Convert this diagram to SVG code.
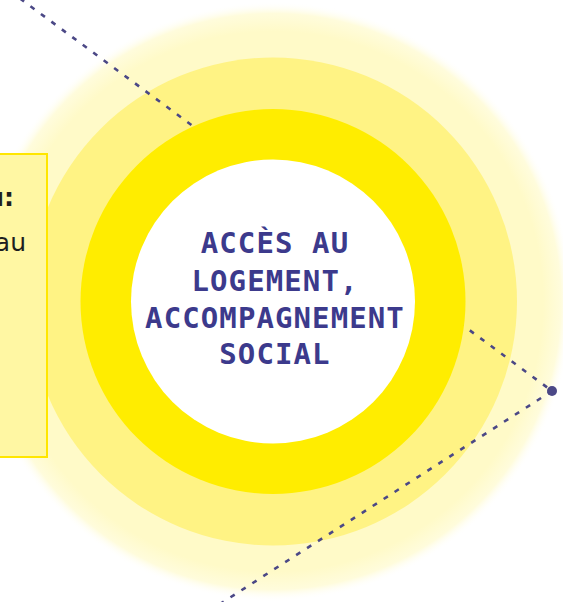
<svg xmlns="http://www.w3.org/2000/svg" width="563" height="602" viewBox="0 0 563 602">
  <style>
    .title { font-family: "DejaVu Sans Mono", "Liberation Mono", monospace; font-weight: bold; font-size: 29px; letter-spacing: 1.1px; fill: #3c3a8c; text-anchor: middle; }
    .note { font-family: "DejaVu Sans", "Liberation Sans", sans-serif; font-size: 25px; fill: #1e1e1e; text-anchor: end; }
    .dash { fill: none; stroke: #4b4886; stroke-width: 2.6; stroke-dasharray: 5 8; }
  </style>
  <defs>
    <radialGradient id="paleGrad" cx="273" cy="301.5" r="300" gradientUnits="userSpaceOnUse">
      <stop offset="0.9" stop-color="#fffac8"/>
      <stop offset="0.96" stop-color="#fffcdc"/>
      <stop offset="1" stop-color="#ffffff" stop-opacity="0"/>
    </radialGradient>
  </defs>
  <rect width="563" height="602" fill="#ffffff"/>
  <g id="rings">
    <circle cx="273" cy="301.5" r="300" fill="url(#paleGrad)"/>
    <circle cx="273" cy="301.5" r="244" fill="#fff384"/>
  </g>
  <g id="connectors">
    <line class="dash" x1="20" y1="-1.5" x2="552" y2="391"/>
    <line class="dash" x1="552" y1="391" x2="220" y2="604"/>
    <circle cx="552" cy="391" r="5" fill="#4b4886"/>
  </g>
  <g id="center-node">
    <circle cx="273" cy="301.5" r="192.5" fill="#ffed00"/>
    <circle cx="273" cy="301.5" r="142" fill="#ffffff"/>
    <text class="title" x="275" y="253">ACCÈS AU</text>
    <text class="title" x="275" y="291">LOGEMENT,</text>
    <text class="title" x="275" y="328">ACCOMPAGNEMENT</text>
    <text class="title" x="275" y="364">SOCIAL</text>
  </g>
  <g id="note-box">
    <rect x="-10" y="154" width="57" height="303" fill="#fff7a3" stroke="#ffe600" stroke-width="2"/>
    <text class="note" x="14" y="206" font-weight="bold">u:</text>
    <text class="note" x="26" y="251">au</text>
  </g>
</svg>
